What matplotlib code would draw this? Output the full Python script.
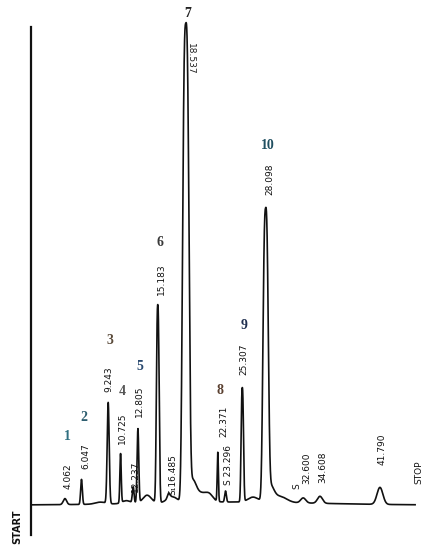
import numpy as np
import matplotlib
matplotlib.use("Agg")
import matplotlib.pyplot as plt

# peaks (retention time in min, height in px-units, sigma in min)
rt = [4.062, 6.047, 9.243, 10.725, 12.237, 12.805, 15.183, 16.485, 18.537,
      22.371, 23.296, 25.307, 28.098, 32.600, 34.608, 41.790]
height = [6, 25, 101, 49, 16, 74, 198, 5, 474, 49, 11, 114, 285, 5, 7, 17]
sigma = [0.2, 0.1, 0.12, 0.08, 0.1, 0.1, 0.16, 0.15, 0.36,
         0.07, 0.1, 0.14, 0.3, 0.3, 0.3, 0.35]
shape = [2, 2, 2, 2, 2, 2, 2.5, 2, 3.0, 2, 2, 2.5, 2.8, 2, 2, 2]
labels = ["4.062", "6.047", "9.243", "10.725", "12.237", "12.805", "15.183",
          "S\u208116.485", "18.537", "22.371", "S 23.296", "25.307", "28.098",
          "32.600", "34.608", "41.790"]

# small humps / tails / drift in the baseline
hump_rt = [8.3, 11.4, 13.9, 16.9, 19.3, 20.5, 21.4, 26.6, 28.6, 29.8, 24.0]
hump_h = [2, 3, 8, 6, 20, 9, 4, 5, 16, 6, 3]
hump_sigma = [0.6, 0.5, 0.5, 0.6, 0.45, 0.8, 0.4, 0.6, 0.45, 0.8, 10.0]

peak_no = ["1", "2", "3", "4", "5", "6", "7", "8", "9", "10"]
peak_no_rt = [4.062, 6.047, 9.243, 10.725, 12.805, 15.183, 18.537, 22.371, 25.307, 28.098]
peak_no_color = ["#2f6f80", "#2f5f70", "#5a4a3a", "#555555", "#2a4a70",
                 "#3a3a3a", "#222222", "#5a4030", "#1f2f50", "#1f4f60"]

t = np.linspace(0, 46.0, 6000)
trace = np.full_like(t, -2.0)
for c, h, s, p in zip(rt, height, sigma, shape):
    trace += h * np.exp(-0.5 * np.abs((t - c) / s) ** p)
for c, h, s in zip(hump_rt, hump_h, hump_sigma):
    trace += h * np.exp(-0.5 * ((t - c) / s) ** 2)

fig = plt.figure(figsize=(4.3, 5.5), dpi=100)
ax = fig.add_axes([31 / 430, 15 / 550, 399 / 430, 508 / 550])
ax.plot(t, trace, color="#111111", lw=1.2, clip_on=False)
ax.set_xlim(0, 399 / 8.35)
ax.set_ylim(-32, 476)
for s in ["top", "right", "bottom"]:
    ax.spines[s].set_visible(False)
ax.spines["left"].set_linewidth(1.6)
ax.spines["left"].set_color("#111111")
ax.set_xticks([])
ax.set_yticks([])

# retention-time labels (offsets in pixels from peak top)
offs = {"4.062": (3, 10), "6.047": (4, 10), "9.243": (1, 10), "10.725": (2, 10),
        "12.237": (2, -5), "12.805": (2, 12), "15.183": (4, 10),
        "S\u208116.485": (4, -2), "22.371": (6, 15), "S 23.296": (3, 6),
        "25.307": (2, 13), "28.098": (4, 13), "32.600": (4, 14),
        "34.608": (3, 13), "41.790": (2, 22)}
for c, lab in zip(rt, labels):
    top = np.interp(c, t, trace)
    if lab == "18.537":
        ax.annotate(lab, (c, top), xytext=(5, -20), textcoords="offset pixels",
                    rotation=-90, ha="center", va="top", fontsize=6.5,
                    color="#222222", annotation_clip=False)
        continue
    dx, dy = offs[lab]
    ax.annotate(lab, (c, top), xytext=(dx, dy), textcoords="offset pixels",
                rotation=90, ha="center", va="bottom", fontsize=6.5,
                color="#111111", annotation_clip=False)

top = np.interp(32.6, t, trace)
ax.annotate("S", (32.6, top), xytext=(-6, 12), textcoords="offset pixels",
            rotation=90, ha="center", va="center", fontsize=6.5, color="#111111")

# peak numbers
for n, c, col in zip(peak_no, peak_no_rt, peak_no_color):
    top = np.interp(c, t, trace)
    dy = 10 if n == "7" else 62
    ax.annotate(n, (c, top), xytext=(2, dy), textcoords="offset pixels",
                ha="center", va="center", fontsize=10, fontweight="bold",
                family="Liberation Serif", color=col, annotation_clip=False)

fig.text(17 / 430, 1 - 527 / 550, "START", rotation=90, ha="center", va="center",
         fontsize=7, fontweight="bold", color="#111111")
fig.text(419 / 430, 1 - 472 / 550, "STOP", rotation=90, ha="center", va="center",
         fontsize=6.5, color="#111111")

fig.savefig("out.png", dpi=100)
